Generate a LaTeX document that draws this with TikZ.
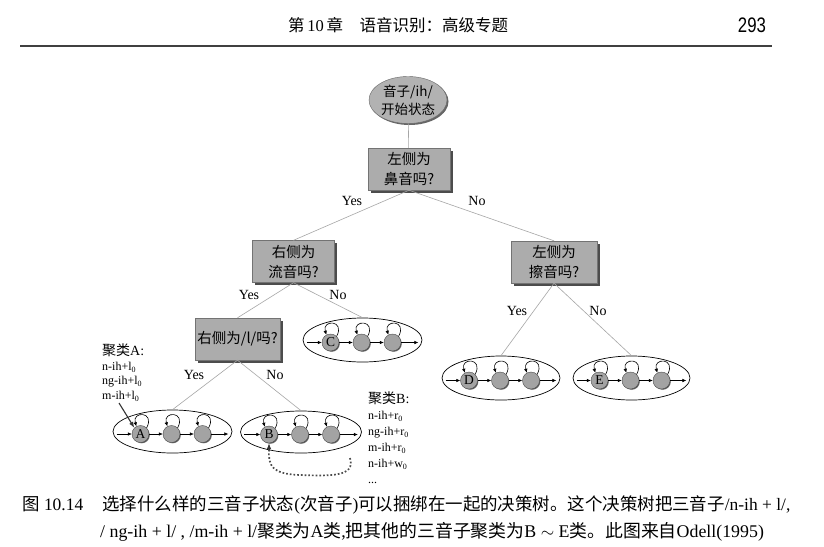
\documentclass[tikz,border=0pt]{standalone}
\usepackage{fontspec}
\setmainfont{Liberation Serif}
\newfontfamily\cjk{Noto Sans CJK SC}
\newfontfamily\arialf{Liberation Sans}
\usetikzlibrary{arrows.meta,shapes.geometric,shadows,calc}
\newcommand{\zh}[1]{{\cjk #1}}
\tikzset{
  tline/.style={draw=black!35, line width=0.6pt},
  qbox/.style={draw=black!55, fill=gray!65, minimum width=82pt, minimum height=42pt,
    align=center, inner sep=2pt, font=\cjk\fontsize{14.5}{20}\selectfont,
    drop shadow={shadow xshift=2.5pt, shadow yshift=-2.5pt, fill=black!70, opacity=1}},
  rootell/.style={ellipse, draw=black!60, fill=gray!60, minimum width=78pt, minimum height=47pt,
    inner sep=0pt, align=center, font=\cjk\fontsize{13.5}{18}\selectfont,
    drop shadow={shadow xshift=1.5pt, shadow yshift=-1.5pt, fill=black!60, opacity=1}},
  clus/.style={ellipse, draw=black, line width=0.7pt, fill=white, inner sep=0pt},
  st/.style={circle, draw=black!70, fill=gray!72, minimum size=17pt, inner sep=0pt,
    font=\fontsize{13.5}{13.5}\selectfont,
    circular drop shadow={shadow xshift=1pt, shadow yshift=-1pt, fill=black!65, opacity=1, shadow scale=1}},
  arr/.style={-{Latex[length=4pt,width=3.6pt]}, line width=0.6pt, black},
  yn/.style={font=\fontsize{14}{14}\selectfont},
  lbl/.style={align=left, inner sep=0pt, font=\fontsize{12}{14.5}\selectfont},
  darr/.style={-{Latex[length=6pt,width=4.5pt]}, line width=1.1pt, black!80},
  dotarr/.style={line width=1.7pt, dotted, black!70},
}
\newcommand{\hmmclus}[6]{%
  \node[clus, minimum width=#4pt, minimum height=#5pt] (#1) at (#2,#3) {};
  \node[st] (#1s1) at ($(#1)+(-32,2.5)$) {#6};
  \node[st] (#1s2) at ($(#1)+(-1,2.5)$) {};
  \node[st] (#1s3) at ($(#1)+(30,2.5)$) {};
  \coordinate (#1in) at ($(#1.west)+(4,2.5)$);
  \coordinate (#1out) at ($(#1.east)+(-4,2.5)$);
  \draw[arr] (#1in) -- (#1s1);
  \draw[arr] (#1s1) -- (#1s2);
  \draw[arr] (#1s2) -- (#1s3);
  \draw[arr] (#1s3) -- (#1out);
  \foreach \s in {s1,s2,s3}{
    \draw[arr] (#1\s.45) .. controls ($(#1\s)+(15,-23)$) and ($(#1\s)+(-9,-23)$) .. (#1\s.118);
  }
}
\begin{document}
\begin{tikzpicture}[x=1pt,y=-1pt]
\useasboundingbox[fill=white] (0,0) rectangle (824,546);

% header
\node[font=\fontsize{16.5}{20}\selectfont] (hdr) at (398,25) {\zh{第}\,10\,\zh{章}\quad\zh{语音识别：高级专题}};
\node[font=\arialf\fontsize{21}{21}\selectfont, xscale=0.8] (pg) at (752,25) {293};
\coordinate (ruleL) at (20,46);
\coordinate (ruleR) at (772,46);
\draw[line width=1.6pt, black!75] (ruleL) -- (ruleR);

% tree nodes
\node[rootell] (root) at (408,100) {音子/ih/\\开始状态};
\node[qbox] (q1) at (409,169) {左侧为\\鼻音吗?};
\node[qbox] (q2) at (293.5,261.5) {右侧为\\流音吗?};
\node[qbox, minimum width=86pt] (q3) at (554,262) {左侧为\\擦音吗?};
\node[qbox, minimum width=85pt] (q4) at (237.5,339) {右侧为/l/吗?};

\hmmclus{cA}{172.5}{431.5}{119}{43}{A}
\hmmclus{cB}{301}{432}{121}{42}{B}
\hmmclus{cC}{362.5}{340}{119}{44}{C}
\hmmclus{cD}{501}{378}{118}{44}{D}
\hmmclus{cE}{631.5}{378}{117}{44}{E}

% tree edges
\draw[tline] (root) -- (q1);
\draw[tline] (q1.south) -- (q2.north);
\draw[tline] (q1.south) -- (q3.north);
\draw[tline] (q2.south) -- (q4.north);
\draw[tline] (q2.south) -- (cC.north);
\draw[tline] (q3.south) -- (cD.north);
\draw[tline] (q3.south) -- (cE.north);
\draw[tline] (q4.south) -- (cA.north);
\draw[tline] (q4.south) -- (cB.north);

% yes / no labels
\node[yn] (y1) at (352,201) {Yes};
\node[yn] (n1) at (477,201) {No};
\node[yn] (y2) at (249,295) {Yes};
\node[yn] (n2) at (338,295) {No};
\node[yn] (y3) at (517,311) {Yes};
\node[yn] (n3) at (598,311) {No};
\node[yn] (y4) at (194,375) {Yes};
\node[yn] (n4) at (275,375) {No};

% cluster labels
\node[lbl, anchor=north west] (lA) at (102,344)
  {{\fontsize{14}{15}\selectfont\zh{聚类}A:}\\n-ih+l\textsubscript{0}\\ng-ih+l\textsubscript{0}\\m-ih+l\textsubscript{0}};
\coordinate (aStart) at (119,403);
\draw[darr] (aStart) -- (cAs1.north west);

\node[lbl, anchor=north west, font=\fontsize{12}{16}\selectfont] (lB) at (368,392)
  {{\fontsize{14}{15}\selectfont\zh{聚类}B:}\\n-ih+r\textsubscript{0}\\ng-ih+r\textsubscript{0}\\m-ih+r\textsubscript{0}\\n-ih+w\textsubscript{0}\\...};
\coordinate (bStart) at (350,458);
\draw[dotarr] (bStart) .. controls (356,477) and (330,476) .. (300,475)
  .. controls (272,474) and (268,466) .. ($(cBs1.south)+(0,6)$);
\coordinate (bTip) at ($(cBs1.south)+(0,7)$);
\draw[darr, line width=0.8pt] (bTip) -- (cBs1.south);

% caption
\node[anchor=west, inner sep=0pt, font=\fontsize{17.45}{20}\selectfont] (cap1) at (22,505)
  {\zh{图} 10.14\hspace{1.1em}\zh{选择什么样的三音子状态}(\zh{次音子})\zh{可以捆绑在一起的决策树。这个决策树把三音子}/n-ih + l/,};
\node[anchor=west, inner sep=0pt, font=\fontsize{17.85}{20}\selectfont] (cap2) at (100,532)
  {/ ng-ih + l/ , /m-ih + l/\zh{聚类为}A\zh{类},\zh{把其他的三音子聚类为}B $\sim$ E\zh{类。此图来自}Odell(1995)};
\end{tikzpicture}
\end{document}
